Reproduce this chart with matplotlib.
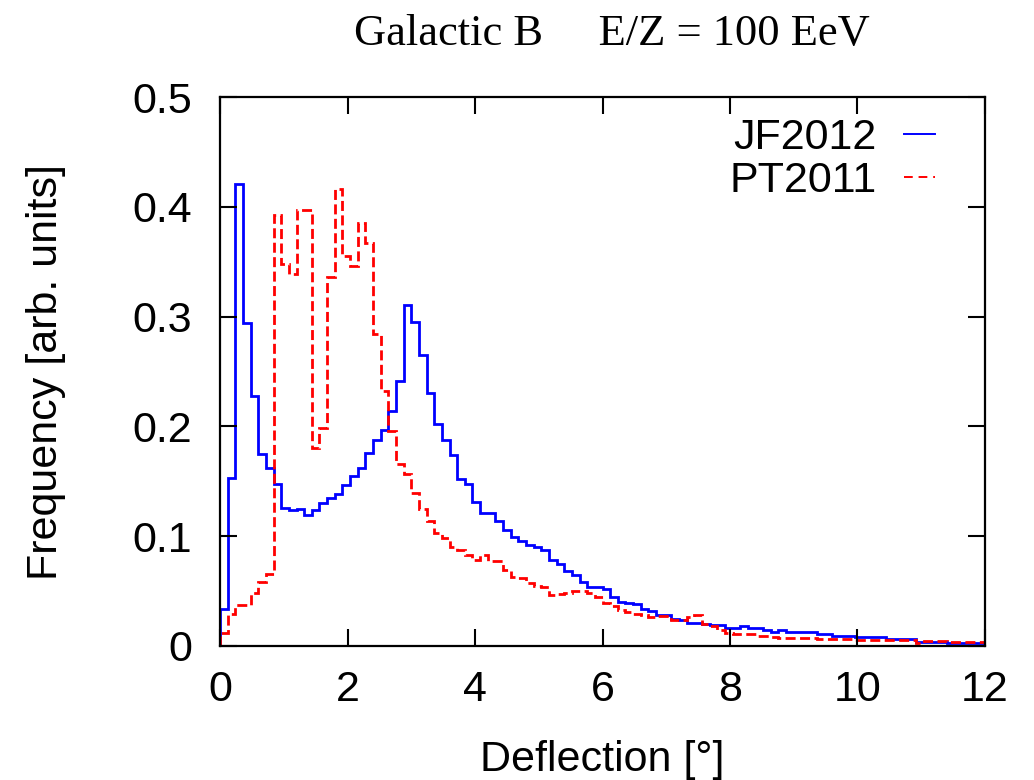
import matplotlib
matplotlib.use("Agg")
import matplotlib.pyplot as plt
from matplotlib.lines import Line2D
import numpy as np

# histogram bins: 100 bins of 0.12 deg between 0 and 12
bin_width = 0.12
n_bins = 100

jf2012 = [
    0.034, 0.153, 0.421, 0.294, 0.228, 0.175, 0.162, 0.148, 0.126, 0.124,
    0.125, 0.119, 0.124, 0.130, 0.135, 0.138, 0.147, 0.155, 0.162, 0.176,
    0.188, 0.197, 0.214, 0.241, 0.311, 0.295, 0.265, 0.230, 0.202, 0.188,
    0.174, 0.152, 0.148, 0.131, 0.121, 0.121, 0.114, 0.106, 0.099, 0.096,
    0.092, 0.090, 0.087, 0.078, 0.075, 0.068, 0.065, 0.058, 0.054, 0.054,
    0.052, 0.045, 0.040, 0.039, 0.038, 0.034, 0.032, 0.028, 0.028, 0.025,
    0.024, 0.021, 0.021, 0.020, 0.019, 0.019, 0.016, 0.016, 0.018, 0.016,
    0.016, 0.015, 0.013, 0.015, 0.013, 0.013, 0.013, 0.013, 0.011, 0.011,
    0.009, 0.009, 0.009, 0.008, 0.008, 0.008, 0.008, 0.006, 0.006, 0.006,
    0.006, 0.004, 0.004, 0.004, 0.004, 0.003, 0.003, 0.003, 0.003, 0.003,
]

pt2011 = [
    0.012, 0.029, 0.037, 0.037, 0.048, 0.058, 0.066, 0.393, 0.348, 0.339,
    0.397, 0.397, 0.180, 0.199, 0.336, 0.416, 0.355, 0.346, 0.385, 0.367,
    0.284, 0.232, 0.196, 0.166, 0.157, 0.139, 0.125, 0.114, 0.103, 0.098,
    0.090, 0.087, 0.083, 0.078, 0.083, 0.077, 0.077, 0.069, 0.063, 0.062,
    0.057, 0.055, 0.054, 0.046, 0.047, 0.048, 0.050, 0.050, 0.048, 0.045,
    0.039, 0.036, 0.033, 0.031, 0.029, 0.028, 0.026, 0.027, 0.027, 0.024,
    0.024, 0.026, 0.028, 0.020, 0.018, 0.015, 0.012, 0.011, 0.011, 0.011,
    0.009, 0.009, 0.008, 0.007, 0.007, 0.007, 0.007, 0.007, 0.006, 0.006,
    0.006, 0.006, 0.006, 0.0055, 0.0055, 0.0055, 0.0055, 0.0055, 0.0055, 0.0055,
    0.0055, 0.003, 0.005, 0.005, 0.005, 0.004, 0.004, 0.004, 0.004, 0.004,
]

x_ticks = [0, 2, 4, 6, 8, 10, 12]
y_ticks = [0, 0.1, 0.2, 0.3, 0.4, 0.5]
y_labels = ["0", "0.1", "0.2", "0.3", "0.4", "0.5"]
series_names = ["JF2012", "PT2011"]

edges = np.arange(n_bins + 1) * bin_width

plt.rcParams['font.family'] = ['Liberation Sans', 'DejaVu Sans']

fig = plt.figure(figsize=(10.34, 7.80), dpi=100)
ax = fig.add_axes([0.2128, 0.1718, 0.7398, 0.7038])

ax.stairs(jf2012, edges, color='#0000ff', lw=2.0)
ax.stairs(pt2011, edges, color='#ff0000', lw=2.0, linestyle=(0, (3.6, 1.6)))

ax.set_xlim(0, 12)
ax.set_ylim(0, 0.5)
ax.set_xticks(x_ticks)
ax.set_yticks(y_ticks)
ax.set_yticklabels(y_labels)
ax.tick_params(direction='in', length=12, width=1.5, labelsize=31,
               top=True, right=True)
ax.tick_params(axis='x', pad=17)
ax.tick_params(axis='y', pad=20)
for sp in ax.spines.values():
    sp.set_linewidth(1.6)

ax.set_xlabel('Deflection [°]', fontsize=31, labelpad=22)
ax.set_ylabel('Frequency [arb. units]', fontsize=31, labelpad=48)

# gnuplot style key: text first, short sample after
handles = [Line2D([], [], color='#0000ff', lw=1.4),
           Line2D([], [], color='#ff0000', lw=1.4, dashes=(4.5, 3))]
ax.legend(handles, series_names, loc='upper right', bbox_to_anchor=(0.934, 0.962),
          fontsize=31, frameon=False, markerfirst=False, borderpad=0,
          borderaxespad=0, handlelength=0.7, handletextpad=0.65, labelspacing=0.07)

fig.text(0.592, 1 - 45 / 780, 'Galactic B     E/Z = 100 EeV', ha='center', va='baseline',
         fontsize=32, family=['Liberation Serif', 'DejaVu Serif'])

fig.savefig('out.png', dpi=100)
